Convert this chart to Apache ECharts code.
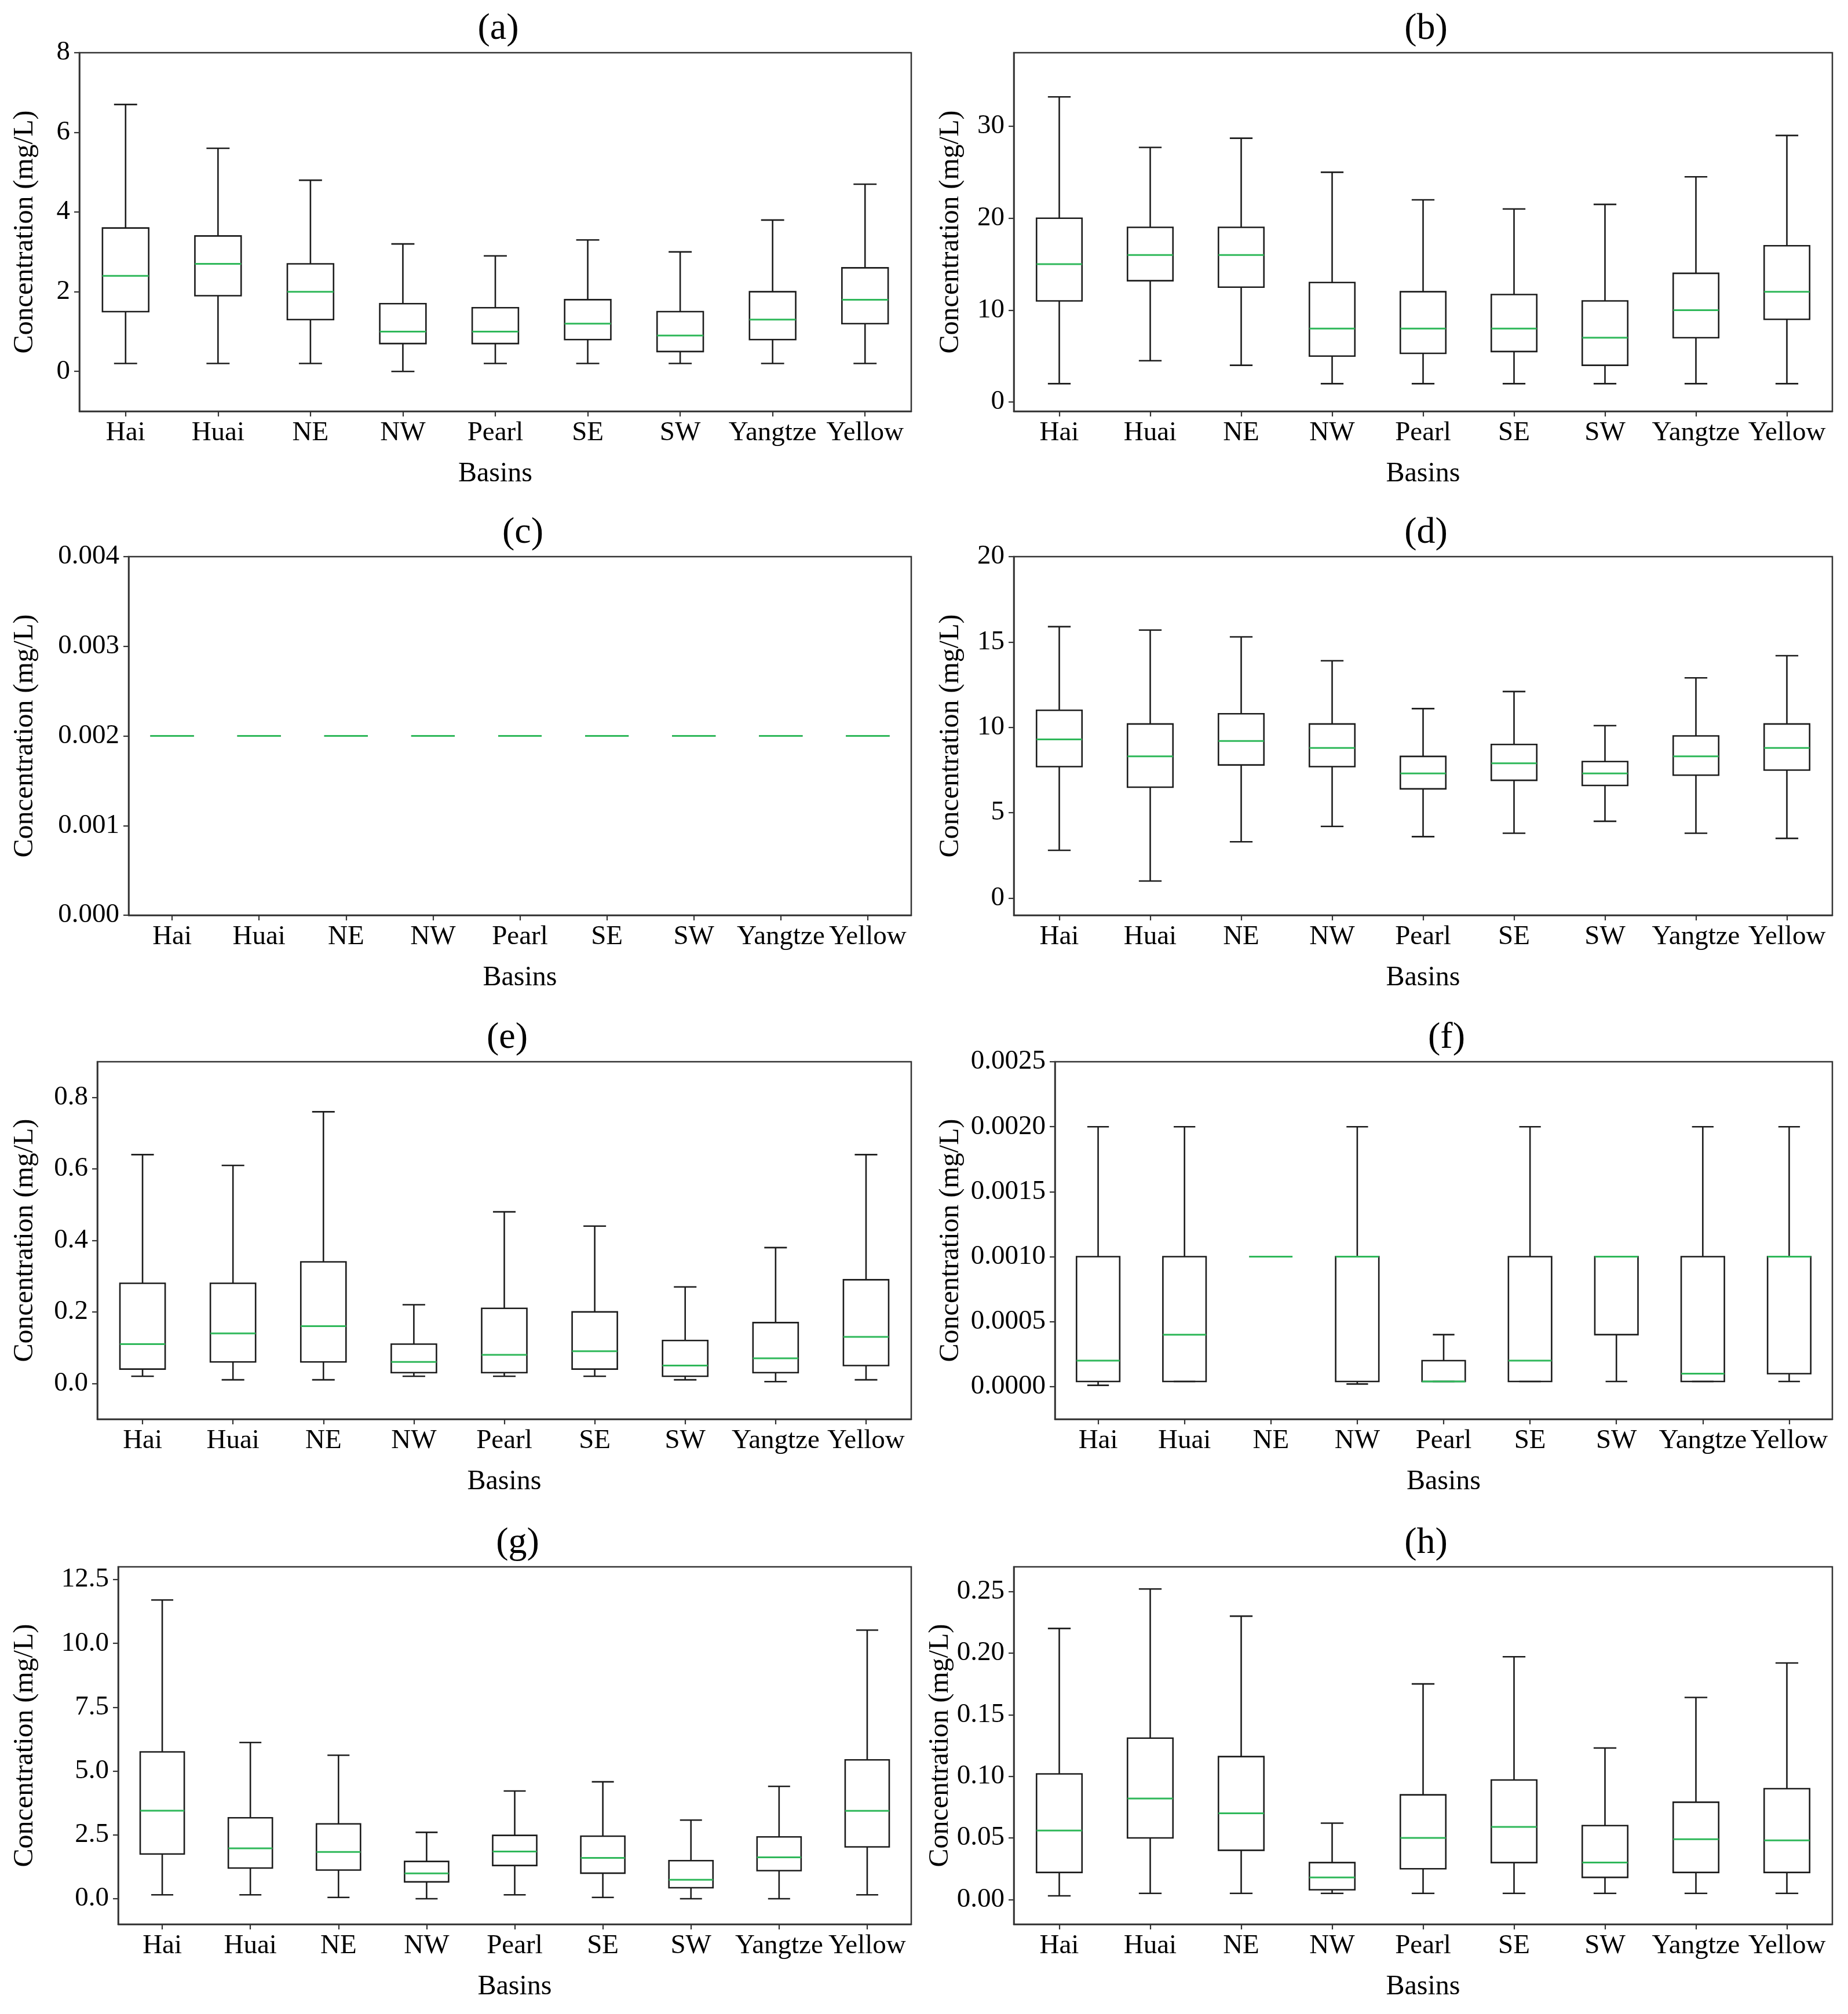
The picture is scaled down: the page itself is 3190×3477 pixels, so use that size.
<!DOCTYPE html>
<html>
<head>
<meta charset="utf-8">
<script src="https://cdn.jsdelivr.net/npm/echarts@6/dist/echarts.min.js"></script>
<style>
html,body{margin:0;padding:0;background:#fff;}
#chart{width:3190px;height:3477px;}
</style>
</head>
<body>
<div id="chart"></div>
<script>
// ---------- data ----------
const categories = ['Hai','Huai','NE','NW','Pearl','SE','SW','Yangtze','Yellow'];
const panelTitles = ['(a)','(b)','(c)','(d)','(e)','(f)','(g)','(h)'];
const yAxisLabel = 'Concentration (mg/L)';
const xAxisLabel = 'Basins';

// each row: [lower whisker, Q1, median, Q3, upper whisker]
const statsA = [[0.2,1.5,2.4,3.6,6.7],[0.2,1.9,2.7,3.4,5.6],[0.2,1.3,2.0,2.7,4.8],[0.0,0.7,1.0,1.7,3.2],[0.2,0.7,1.0,1.6,2.9],[0.2,0.8,1.2,1.8,3.3],[0.2,0.5,0.9,1.5,3.0],[0.2,0.8,1.3,2.0,3.8],[0.2,1.2,1.8,2.6,4.7]];
const statsB = [[2,11,15,20,33.2],[4.5,13.2,16,19,27.7],[4,12.5,16,19,28.7],[2,5,8,13,25],[2,5.3,8,12,22],[2,5.5,8,11.7,21],[2,4,7,11,21.5],[2,7,10,14,24.5],[2,9,12,17,29]];
const statsC = [[0.002,0.002,0.002,0.002,0.002],[0.002,0.002,0.002,0.002,0.002],[0.002,0.002,0.002,0.002,0.002],[0.002,0.002,0.002,0.002,0.002],[0.002,0.002,0.002,0.002,0.002],[0.002,0.002,0.002,0.002,0.002],[0.002,0.002,0.002,0.002,0.002],[0.002,0.002,0.002,0.002,0.002],[0.002,0.002,0.002,0.002,0.002]];
const statsD = [[2.8,7.7,9.3,11,15.9],[1.0,6.5,8.3,10.2,15.7],[3.3,7.8,9.2,10.8,15.3],[4.2,7.7,8.8,10.2,13.9],[3.6,6.4,7.3,8.3,11.1],[3.8,6.9,7.9,9.0,12.1],[4.5,6.6,7.3,8.0,10.1],[3.8,7.2,8.3,9.5,12.9],[3.5,7.5,8.8,10.2,14.2]];
const statsE = [[0.02,0.04,0.11,0.28,0.64],[0.01,0.06,0.14,0.28,0.61],[0.01,0.06,0.16,0.34,0.76],[0.02,0.03,0.06,0.11,0.22],[0.02,0.03,0.08,0.21,0.48],[0.02,0.04,0.09,0.20,0.44],[0.01,0.02,0.05,0.12,0.27],[0.005,0.03,0.07,0.17,0.38],[0.01,0.05,0.13,0.29,0.64]];
const statsF = [[0.00001,0.00004,0.0002,0.001,0.002],[0.00004,0.00004,0.0004,0.001,0.002],[0.001,0.001,0.001,0.001,0.001],[0.00002,0.00004,0.001,0.001,0.002],[0.00004,0.00004,0.00004,0.0002,0.0004],[0.00004,0.00004,0.0002,0.001,0.002],[0.00004,0.0004,0.001,0.001,0.001],[0.00004,0.00004,0.0001,0.001,0.002],[0.00004,0.0001,0.001,0.001,0.002]];
const statsG = [[0.15,1.75,3.45,5.75,11.7],[0.15,1.2,1.97,3.17,6.12],[0.05,1.12,1.83,2.93,5.62],[0.0,0.66,0.99,1.46,2.6],[0.15,1.3,1.85,2.48,4.22],[0.05,1.0,1.6,2.45,4.58],[0.0,0.43,0.74,1.49,3.08],[0.0,1.1,1.62,2.42,4.4],[0.15,2.03,3.44,5.44,10.52]];
const statsH = [[0.003,0.022,0.056,0.102,0.22],[0.005,0.05,0.082,0.131,0.252],[0.005,0.04,0.07,0.116,0.23],[0.005,0.008,0.018,0.03,0.062],[0.005,0.025,0.05,0.085,0.175],[0.005,0.03,0.059,0.097,0.197],[0.005,0.018,0.03,0.06,0.123],[0.005,0.022,0.049,0.079,0.164],[0.005,0.022,0.048,0.09,0.192]];

// y tick labels per panel
const ticksA = [0,2,4,6,8];
const ticksB = [0,10,20,30];
const ticksC = [0,0.001,0.002,0.003,0.004];
const ticksD = [0,5,10,15,20];
const ticksE = [0,0.2,0.4,0.6,0.8];
const ticksF = [0,0.0005,0.001,0.0015,0.002,0.0025];
const ticksG = [0,2.5,5,7.5,10,12.5];
const ticksH = [0,0.05,0.1,0.15,0.2,0.25];
const tickDecimals = [0,0,3,0,1,4,1,2];
const yMins = [-1,-1,0,-1,-0.1,-0.00025,-1,-0.02];
const yMaxs = [8,38,0.004,20,0.9,0.0025,13,0.27];

// ---------- layout / style ----------
const allStats = [statsA,statsB,statsC,statsD,statsE,statsF,statsG,statsH];
const allTicks = [ticksA,ticksB,ticksC,ticksD,ticksE,ticksF,ticksG,ticksH];
const grids = [
  {left:137, top:91, width:1436, height:619},
  {left:1750, top:91, width:1413, height:619},
  {left:222, top:961, width:1351, height:619},
  {left:1750, top:961, width:1413, height:619},
  {left:168, top:1833, width:1405, height:617},
  {left:1821, top:1833, width:1342, height:617},
  {left:204, top:2705, width:1369, height:617},
  {left:1750, top:2705, width:1413, height:617}
];
const yLabelCenterX = [43, 1641];
const SERIF = '"Liberation Serif","Times New Roman",serif';
const BOXCOL = '#1c1c1c';
const MEDCOL = '#2fb85a';

function renderBox(params, api) {
  const x = api.value(0);
  const lo = api.coord([x, api.value(1)]);
  const q1 = api.coord([x, api.value(2)]);
  const md = api.coord([x, api.value(3)]);
  const q3 = api.coord([x, api.value(4)]);
  const hi = api.coord([x, api.value(5)]);
  const bw = api.size([1, 0])[0] * 0.5;
  const cx = lo[0];
  const st = {stroke: BOXCOL, lineWidth: 2.6, fill: null};
  return {
    type: 'group',
    children: [
      {type:'line', shape:{x1:cx, y1:q1[1], x2:cx, y2:lo[1]}, style: st},
      {type:'line', shape:{x1:cx, y1:q3[1], x2:cx, y2:hi[1]}, style: st},
      {type:'line', shape:{x1:cx-bw/4, y1:lo[1], x2:cx+bw/4, y2:lo[1]}, style: st},
      {type:'line', shape:{x1:cx-bw/4, y1:hi[1], x2:cx+bw/4, y2:hi[1]}, style: st},
      {type:'rect', shape:{x:cx-bw/2, y:q3[1], width:bw, height:q1[1]-q3[1]}, style: st},
      {type:'line', shape:{x1:cx-bw/2, y1:md[1], x2:cx+bw/2, y2:md[1]}, style:{stroke: MEDCOL, lineWidth: 3}}
    ]
  };
}

const option = {
  backgroundColor: '#ffffff',
  animation: false,
  title: [], grid: [], xAxis: [], yAxis: [], series: []
};

for (let i = 0; i < 8; i++) {
  const g = grids[i];
  const col = i % 2;
  option.title.push({
    text: panelTitles[i],
    left: g.left + g.width / 2,
    top: g.top - 78,
    textAlign: 'center',
    textStyle: {fontFamily: SERIF, fontSize: 64, fontWeight: 'normal', color: '#000'}
  });
  option.grid.push({
    left: g.left, top: g.top, width: g.width, height: g.height,
    show: true, borderColor: '#333', borderWidth: 2.5, backgroundColor: 'transparent',
    containLabel: false
  });
  option.xAxis.push({
    type: 'category', gridIndex: i, data: categories, boundaryGap: true,
    axisLine: {show: true, onZero: false, lineStyle: {color: '#333', width: 2.5}},
    axisTick: {show: true, alignWithLabel: true, length: 9, lineStyle: {color: '#333', width: 2.2}},
    axisLabel: {interval: 0, margin: 14, fontFamily: SERIF, fontSize: 47, color: '#000'},
    splitLine: {show: false},
    name: xAxisLabel, nameLocation: 'middle', nameGap: 84,
    nameTextStyle: {fontFamily: SERIF, fontSize: 48, color: '#000', verticalAlign: 'top'}
  });
  const dec = tickDecimals[i];
  option.yAxis.push({
    type: 'value', gridIndex: i, min: yMins[i], max: yMaxs[i],
    axisLine: {show: true, onZero: false, lineStyle: {color: '#333', width: 2.5}},
    axisTick: {show: true, length: 9, customValues: allTicks[i], lineStyle: {color: '#333', width: 2.2}},
    axisLabel: {customValues: allTicks[i], margin: 16, fontFamily: SERIF, fontSize: 47, color: '#000',
      formatter: v => Number(v).toFixed(dec)},
    splitLine: {show: false},
    name: yAxisLabel, nameLocation: 'middle', nameRotate: 90,
    nameGap: g.left - yLabelCenterX[col] - 24,
    nameTextStyle: {fontFamily: SERIF, fontWeight: 'normal', fontSize: 48, color: '#000'}
  });
  option.series.push({
    type: 'custom', xAxisIndex: i, yAxisIndex: i,
    renderItem: renderBox,
    encode: {x: 0, y: [1,2,3,4,5]},
    data: allStats[i].map((r, k) => [k].concat(r)),
    clip: false
  });
}

const chart = echarts.init(document.getElementById('chart'), null, {renderer: 'canvas'});
chart.setOption(option);
</script>
</body>
</html>
